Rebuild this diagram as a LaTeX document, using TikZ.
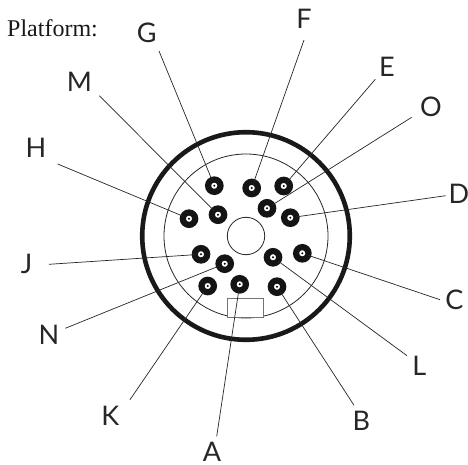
\documentclass[tikz,border=0pt]{standalone}
\usepackage{fontspec}
\setmainfont{Liberation Serif}
\newfontfamily\lblfont{Lato}
\begin{document}
\begin{tikzpicture}[x=1pt,y=-1pt,
  pin/.style={circle,draw=black!92,fill=white,line width=6.2pt,minimum size=12.4pt,inner sep=0pt,outer sep=0pt},
  lead/.style={line width=0.7pt,draw=black!85},
  letter/.style={font=\lblfont\fontsize{27}{30}\selectfont,text=black!85,inner sep=0pt}]
\useasboundingbox (0,0) rectangle (468,465);
\fill[white] (0,0) rectangle (468,465);
\draw[line width=4.6pt,black!90] (246,236) circle (103.8);
\draw[line width=0.8pt,black!85] (246,236) circle (82);
\draw[line width=0.8pt,black!85] (246,236) circle (18.7);
\fill[white] (227.7,298.7) rectangle (263.7,317);
\draw[line width=0.8pt,black!55] (227.7,298.7) rectangle (263.7,317);
\foreach \n/\x/\y in {G/214.3/185.7,F/251.7/188,E/283.7/186,O/267/208.3,D/290.3/217.7,M/218/214.7,H/189/218.7,J/201/254.3,N/224.7/263.7,L/273/257.3,C/302.3/253.3,K/207.7/286,A/239.7/284.3,B/277/286.7}{
  \node[pin] (p\n) at (\x,\y) {};
  \fill[black] (\x,\y) circle (1.1);
}
\node[font=\fontsize{24}{26}\selectfont,anchor=base west,inner sep=0pt,text=black!90] (title) at (7,36.7) {Platform:};
\foreach \n/\x/\y/\lx/\ly in {
  G/159/51/146.7/32.7, F/304/40/304/19, E/375.3/79.3/387/67.3, O/411.7/117.3/431/107,
  D/445.7/195.7/459/194, M/99.3/95.7/79.3/82, H/57.7/164/36/147.7, J/49/264.3/26.7/263.7,
  N/65.3/328.3/49/334.7, L/407/355.7/419.3/365.7, C/440/299.7/454.3/299.7, K/130/399.7/110.3/415.7, A/216.7/436.3/212/451.5, B/354/405.3/361.3/420.7}{
  \node[letter] (l\n) at (\lx,\ly) {\n};
  \coordinate (e\n) at (\x,\y);
  \draw[lead] (p\n) -- (e\n);
}
\end{tikzpicture}
\end{document}
